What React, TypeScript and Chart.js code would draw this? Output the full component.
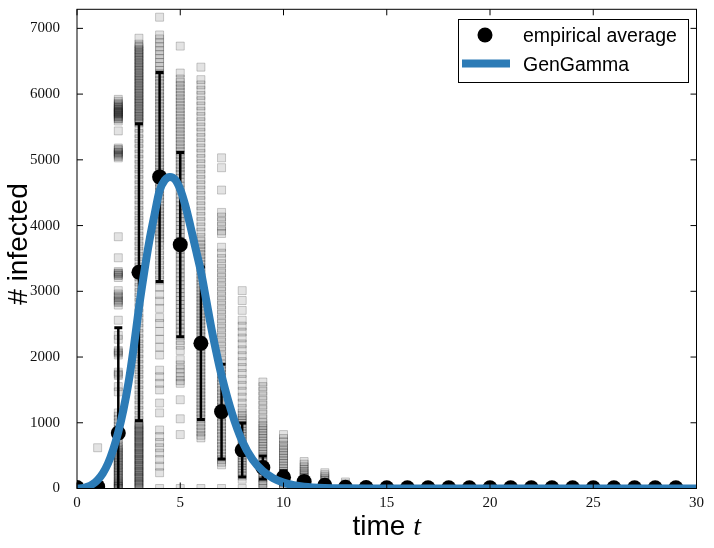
import { useEffect, useRef } from "react";
import { Chart, registerables } from "chart.js";

Chart.register(...registerables);

// time steps with an empirical average (0..29)
const TIMES = [
  0, 1, 2, 3, 4, 5, 6, 7, 8, 9, 10, 11, 12, 13, 14, 15, 16, 17, 18, 19, 20, 21, 22, 23, 24, 25, 26, 27,
  28, 29,
];
const MEAN = [
  15, 30, 845, 3290, 4740, 3710, 2210, 1170, 585, 320, 170, 105, 50, 20, 15, 10, 10, 10, 10, 10, 10, 10,
  10, 10, 10, 10, 10, 10, 10, 10,
];
const STD = [
  5, 40, 1600, 2260, 1590, 1400, 1160, 720, 410, 175, 100, 60, 30, 15, 10, 8, 5, 5, 5, 5, 5, 5, 5, 5, 5,
  5, 5, 5, 5, 5,
];

// fitted GenGamma curve
const FIT_T = [
  0, 0.25, 0.5, 0.75, 1, 1.25, 1.5, 1.75, 2, 2.25, 2.5, 2.75, 3, 3.25, 3.5, 3.75, 4, 4.25, 4.5, 4.75, 5,
  5.25, 5.5, 5.75, 6, 6.25, 6.5, 6.75, 7, 7.5, 8, 8.5, 9, 9.5, 10, 10.5, 11, 12, 13, 14, 16, 18, 20, 22,
  24, 26, 28, 30,
];
const FIT_Y = [
  0, 5, 25, 65, 130, 230, 380, 590, 860, 1200, 1620, 2150, 2750, 3280, 3760, 4160, 4530, 4690, 4740,
  4700, 4550, 4300, 3980, 3640, 3300, 2880, 2450, 2070, 1720, 1150, 720, 440, 265, 155, 90, 50, 27, 8, 2,
  0, 0, 0, 0, 0, 0, 0, 0, 0,
];

// individual simulation runs, one list per time step
const s0 = [0, 5, 10, 15, 20];
const s1 = [620, 80, 50, 30, 20, 10, 0];
const s2 = [
  5920, 5890, 5860, 5840, 5820, 5800, 5790, 5770, 5760, 5740, 5730, 5720, 5710, 5700, 5680, 5660, 5650,
  5630, 5620, 5590, 5440, 5180, 5160, 5150, 5120, 5110, 5090, 5070, 5050, 5030, 3830, 3510, 3300, 3280,
  3270, 3250, 3240, 3210, 3010, 2960, 2930, 2910, 2870, 2850, 2830, 2790, 2560, 2330, 2270, 2100, 2080,
  2060, 2030, 1770, 1740, 1720, 1550, 1470, 1150, 1100, 1050, 1000, 950, 900, 850, 800, 750, 700, 650,
  620, 600, 570, 550, 520, 500, 470, 450, 420, 400, 370, 350, 320, 300, 270, 250, 220, 200, 170, 150, 120,
  100, 80, 60, 40, 30, 10, 0,
];
const s3 = [
  6850, 6760, 6730, 6710, 6680, 6660, 6630, 6610, 6580, 6560, 6530, 6510, 6480, 6460, 6430, 6410, 6380,
  6360, 6330, 6310, 6280, 6260, 6230, 6210, 6180, 6160, 6130, 6110, 6080, 6060, 6030, 6010, 5980, 5960,
  5930, 5910, 5880, 5860, 5830, 5810, 5780, 5760, 5730, 5710, 5680, 5660, 5630, 5610, 5580, 5560, 5480,
  5400, 5320, 5250, 5170, 5090, 5010, 4930, 4860, 4780, 4700, 4620, 4540, 4470, 4390, 4310, 4230, 4150,
  4080, 4000, 3920, 3840, 3760, 3690, 3610, 3530, 3450, 3370, 3300, 3220, 3140, 3060, 2980, 2910, 2830,
  2750, 2670, 2590, 2520, 2440, 2360, 2280, 2200, 2130, 2050, 1970, 1890, 1810, 1740, 1660, 1580, 1500,
  1420, 1350, 1270, 1190, 1110, 1040, 990, 970, 950, 920, 900, 880, 860, 830, 810, 790, 770, 740, 720,
  700, 680, 650, 630, 610, 590, 560, 540, 520, 500, 470, 450, 430, 410, 380, 360, 340, 320, 290, 270,
  250, 230, 200, 180, 160, 140, 110, 90, 70, 50, 20, 0,
];
const s4 = [
  7170, 6900, 6840, 6780, 6720, 6660, 6600, 6540, 6480, 6420, 6360, 6310, 6260, 6210, 6160, 6110, 6060,
  6010, 5960, 5910, 5860, 5810, 5760, 5710, 5660, 5610, 5560, 5510, 5460, 5410, 5360, 5310, 5260, 5210,
  5160, 5110, 5060, 5010, 4960, 4910, 4860, 4810, 4760, 4710, 4660, 4610, 4560, 4510, 4460, 4410, 4360,
  4310, 4260, 4210, 4160, 4110, 4060, 4010, 3960, 3910, 3860, 3810, 3760, 3700, 3620, 3550, 3470, 3400,
  3320, 3250, 3170, 3060, 2950, 2850, 2740, 2600, 2510, 2390, 2270, 2150, 2030, 1800, 1700, 1600, 1500,
  1300, 1150, 890, 790, 700, 620, 540, 440, 340, 240, 0,
];
const s5 = [
  6730, 6320, 6230, 6180, 6130, 6080, 6030, 5980, 5930, 5880, 5830, 5780, 5730, 5680, 5630, 5580, 5530,
  5480, 5430, 5380, 5330, 5280, 5230, 5180, 5130, 5080, 5030, 4980, 4930, 4880, 4830, 4780, 4720, 4660,
  4600, 4540, 4480, 4420, 4360, 4300, 4240, 4180, 4120, 4060, 4000, 3940, 3880, 3820, 3760, 3700, 3640,
  3580, 3520, 3460, 3400, 3340, 3280, 3220, 3160, 3100, 3040, 2980, 2920, 2860, 2800, 2740, 2680, 2620,
  2560, 2500, 2440, 2380, 2320, 2250, 2180, 2100, 1960, 1880, 1820, 1760, 1700, 1640, 1600, 1350, 1060,
  820, 0,
];
const s6 = [
  6410, 6220, 6140, 6060, 5980, 5900, 5820, 5740, 5660, 5580, 5500, 5420, 5340, 5260, 5180, 5100, 5020,
  4940, 4860, 4780, 4700, 4620, 4540, 4460, 4380, 4300, 4220, 4140, 4060, 3980, 3900, 3820, 3760, 3710,
  3660, 3610, 3560, 3510, 3460, 3410, 3360, 3310, 3260, 3210, 3160, 3110, 3060, 3010, 2960, 2910, 2860,
  2810, 2760, 2710, 2660, 2610, 2560, 2510, 2460, 2410, 2360, 2310, 2260, 2210, 2160, 2110, 2060, 2010,
  1960, 1910, 1860, 1810, 1760, 1710, 1660, 1610, 1560, 1510, 1460, 1410, 1360, 1310, 1260, 1210, 1160,
  1110, 1060, 1010, 960, 910, 860, 810, 770, 0,
];
const s7 = [
  5030, 4880, 4540, 4200, 4130, 4060, 3990, 3920, 3880, 3670, 3580, 3500, 3420, 3350, 3280, 3210, 3140,
  3070, 3000, 2930, 2860, 2790, 2720, 2650, 2580, 2510, 2440, 2370, 2300, 2230, 2160, 2090, 2020, 1950,
  1890, 1840, 1790, 1740, 1690, 1640, 1590, 1540, 1490, 1440, 1390, 1340, 1290, 1240, 1190, 1140, 1090,
  1040, 990, 940, 890, 840, 790, 740, 690, 640, 590, 540, 490, 440, 400, 360, 0,
];
const s8 = [
  3010, 2860, 2710, 2560, 2470, 2380, 2290, 2200, 2110, 2020, 1930, 1840, 1750, 1660, 1570, 1480, 1390,
  1300, 1220, 1150, 1110, 1070, 1030, 990, 950, 910, 870, 830, 790, 750, 710, 670, 630, 590, 550, 510,
  470, 430, 390, 350, 310, 270, 230, 190, 140, 0,
];
const s9 = [
  1620, 1550, 1480, 1410, 1340, 1270, 1200, 1130, 1060, 1000, 960, 920, 880, 840, 800, 760, 720, 680,
  640, 600, 560, 520, 480, 440, 400, 360, 320, 280, 240, 200, 160, 120, 80, 60, 0,
];
const s10 = [820, 760, 710, 660, 620, 580, 540, 500, 460, 420, 380, 340, 300, 260, 220, 180, 150, 120, 90, 60, 30, 0];
const s11 = [410, 370, 330, 290, 260, 230, 200, 170, 140, 110, 80, 50, 25, 0];
const s12 = [240, 210, 180, 150, 120, 90, 60, 40, 20, 0];
const s13 = [100, 70, 45, 25, 10, 0];
const SAMPLES = [s0, s1, s2, s3, s4, s5, s6, s7, s8, s9, s10, s11, s12, s13];

const X_TICKS = [0, 5, 10, 15, 20, 25, 30];
const Y_TICKS = [0, 1000, 2000, 3000, 4000, 5000, 6000, 7000];
const Y_MAX = 7290;

const BLUE = "#2c7bb6";
const TICK_FONT = { family: "'Liberation Serif', 'DejaVu Serif', serif", size: 15 };
const SANS = "'Liberation Sans', Arial, sans-serif";

const decor = {
  id: "decor",
  // error bars go between the run squares and the average dots
  afterDatasetDraw(chart: any, args: any) {
    if (args.index !== 0) return;
    const { ctx, chartArea: a } = chart;
    const x = chart.scales.x;
    const y = chart.scales.y;
    ctx.save();
    ctx.beginPath();
    ctx.rect(a.left, a.top, a.right - a.left, a.bottom - a.top);
    ctx.clip();
    ctx.strokeStyle = "#000";
    TIMES.forEach((t, i) => {
      const px = x.getPixelForValue(t);
      const hi = y.getPixelForValue(MEAN[i] + STD[i]);
      const lo = y.getPixelForValue(MEAN[i] - STD[i]);
      ctx.lineWidth = 2.5;
      ctx.beginPath();
      ctx.moveTo(px, lo);
      ctx.lineTo(px, hi);
      ctx.stroke();
      ctx.lineWidth = 3;
      ctx.beginPath();
      ctx.moveTo(px - 4, hi);
      ctx.lineTo(px + 4, hi);
      ctx.moveTo(px - 4, lo);
      ctx.lineTo(px + 4, lo);
      ctx.stroke();
    });
    ctx.restore();
  },
  afterDraw(chart: any) {
    const { ctx, chartArea: a } = chart;
    const x = chart.scales.x;
    const y = chart.scales.y;
    ctx.save();

    // frame + inward ticks on all four sides
    ctx.strokeStyle = "#000";
    ctx.lineWidth = 1;
    ctx.strokeRect(a.left, a.top, a.right - a.left, a.bottom - a.top);
    ctx.beginPath();
    X_TICKS.forEach((v) => {
      const px = x.getPixelForValue(v);
      ctx.moveTo(px, a.bottom);
      ctx.lineTo(px, a.bottom - 6);
      ctx.moveTo(px, a.top);
      ctx.lineTo(px, a.top + 6);
    });
    Y_TICKS.forEach((v) => {
      const py = y.getPixelForValue(v);
      ctx.moveTo(a.left, py);
      ctx.lineTo(a.left + 6, py);
      ctx.moveTo(a.right, py);
      ctx.lineTo(a.right - 6, py);
    });
    ctx.stroke();

    // axis titles
    ctx.fillStyle = "#000";
    ctx.textBaseline = "alphabetic";
    ctx.save();
    ctx.translate(27, 244);
    ctx.rotate(-Math.PI / 2);
    ctx.textAlign = "center";
    ctx.font = `28px ${SANS}`;
    ctx.fillText("# infected", 0, 0);
    ctx.restore();

    ctx.textAlign = "left";
    ctx.font = `28px ${SANS}`;
    const w1 = ctx.measureText("time ").width;
    ctx.font = "italic 28px 'Liberation Serif', serif";
    const w2 = ctx.measureText("t").width;
    const start = (a.left + a.right) / 2 - (w1 + w2) / 2;
    ctx.font = `28px ${SANS}`;
    ctx.fillText("time ", start, 535);
    ctx.font = "italic 28px 'Liberation Serif', serif";
    ctx.fillText("t", start + w1, 535);

    // legend box
    ctx.fillStyle = "#fff";
    ctx.fillRect(458, 19, 230, 63);
    ctx.strokeStyle = "#000";
    ctx.lineWidth = 1;
    ctx.strokeRect(458.5, 19.5, 230, 63);
    ctx.fillStyle = "#000";
    ctx.beginPath();
    ctx.arc(485, 35, 7.5, 0, Math.PI * 2);
    ctx.fill();
    ctx.strokeStyle = BLUE;
    ctx.lineWidth = 8;
    ctx.beginPath();
    ctx.moveTo(462, 63.5);
    ctx.lineTo(510, 63.5);
    ctx.stroke();
    ctx.font = `19.5px ${SANS}`;
    ctx.fillStyle = "#000";
    ctx.fillText("empirical average", 523, 42);
    ctx.fillText("GenGamma", 523, 71);

    ctx.restore();
  },
};

export default function App() {
  const canvasRef = useRef<HTMLCanvasElement>(null);
  const chartRef = useRef<Chart | null>(null);

  useEffect(() => {
    if (!canvasRef.current) return;
    if (chartRef.current) chartRef.current.destroy();

    const runs = SAMPLES.flatMap((vals, t) => vals.map((v) => ({ x: t, y: v })));
    const avg = TIMES.map((t, i) => ({ x: t, y: MEAN[i] }));
    const fit = FIT_T.map((t, i) => ({ x: t, y: FIT_Y[i] }));

    chartRef.current = new Chart(canvasRef.current, {
      type: "scatter",
      data: {
        datasets: [
          {
            label: "runs",
            data: runs,
            pointStyle: "rect",
            pointRadius: 5.66,
            backgroundColor: "rgba(0,0,0,0.11)",
            borderColor: "rgba(0,0,0,0.2)",
            borderWidth: 1,
            clip: 0,
            order: 3,
          },
          {
            label: "empirical average",
            data: avg,
            pointStyle: "circle",
            pointRadius: 7.5,
            backgroundColor: "#000",
            borderWidth: 0,
            clip: 0,
            order: 2,
          },
          {
            label: "GenGamma",
            data: fit,
            showLine: true,
            pointRadius: 0,
            borderColor: BLUE,
            borderWidth: 8,
            cubicInterpolationMode: "monotone",
            clip: 0,
            order: 1,
          } as any,
        ],
      },
      options: {
        responsive: false,
        animation: false,
        devicePixelRatio: 1,
        events: [],
        layout: { padding: { top: 9.3, right: 17.5, left: 0, bottom: 0 } },
        plugins: {
          legend: { display: false },
          tooltip: { enabled: false },
        },
        scales: {
          x: {
            type: "linear",
            min: 0,
            max: 30,
            afterBuildTicks: (s: any) => {
              s.ticks = X_TICKS.map((v) => ({ value: v }));
            },
            afterFit: (s: any) => {
              s.height = 59.5;
              s.paddingLeft = 0;
              s.paddingRight = 0;
            },
            grid: { display: false },
            border: { display: false },
            ticks: {
              color: "#111",
              font: TICK_FONT,
              padding: -2,
              maxRotation: 0,
              autoSkip: false,
              callback: (v: any) => String(v),
            },
          },
          y: {
            type: "linear",
            min: 0,
            max: Y_MAX,
            afterBuildTicks: (s: any) => {
              s.ticks = Y_TICKS.map((v) => ({ value: v }));
            },
            afterFit: (s: any) => {
              s.width = 77;
              s.paddingTop = 0;
              s.paddingBottom = 0;
            },
            grid: { display: false },
            border: { display: false },
            ticks: {
              color: "#111",
              font: TICK_FONT,
              padding: 9,
              autoSkip: false,
              callback: (v: any) => String(v),
            },
          },
        },
      },
      plugins: [decor],
    });

    return () => {
      chartRef.current?.destroy();
      chartRef.current = null;
    };
  }, []);

  return (
    <div style={{ position: "absolute", left: 0, top: 0, width: 714, height: 548, background: "#fff" }}>
      <canvas ref={canvasRef} width={714} height={548} style={{ display: "block" }} />
    </div>
  );
}
